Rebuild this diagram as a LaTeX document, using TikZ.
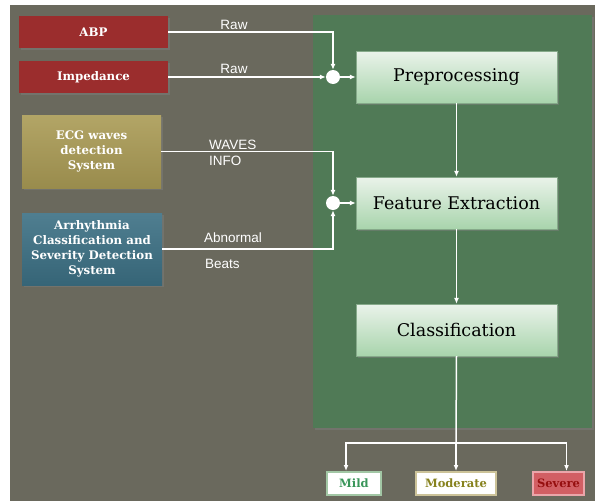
\documentclass[tikz,border=0pt]{standalone}
\usepackage{fontspec}
\setmainfont{DejaVu Serif}
\newfontfamily\lblfont{Liberation Sans}
\definecolor{sgbg}{RGB}{106,105,93}
\definecolor{sgpanel}{RGB}{80,122,86}
\definecolor{sgred}{RGB}{155,45,45}
\definecolor{sgolive}{RGB}{170,155,85}
\definecolor{sgteal}{RGB}{60,112,132}
\definecolor{sgtop}{RGB}{234,243,234}
\definecolor{sgbot}{RGB}{168,212,172}
\definecolor{sgmild}{RGB}{58,150,90}
\definecolor{sgmod}{RGB}{135,130,30}
\definecolor{sgsev}{RGB}{150,15,15}
\definecolor{sgsevfill}{RGB}{210,95,100}
\definecolor{sgsevline}{RGB}{235,165,170}
\usepackage{tikz}
\usetikzlibrary{arrows.meta,positioning,shadows}

\begin{document}
\begin{tikzpicture}[x=1pt, y=-1pt,
  every node/.style={inner sep=0pt},
  shd/.style={drop shadow={shadow xshift=1.5pt, shadow yshift=-2pt, opacity=0.45}},
  srcbox/.style={shd, text=white, align=center, font=\bfseries\fontsize{11.8}{15}\selectfont},
  procbox/.style={shd, top color=sgtop, bottom color=sgbot, draw=sgbot!80!black, line width=0.3pt,
    minimum width=201, minimum height=52, font=\fontsize{17.5}{20}\selectfont},
  jn/.style={circle, fill=white, minimum size=14},
  lbl/.style={text=white, font=\lblfont\fontsize{13.5}{15}\selectfont, align=left},
  wire/.style={white, line width=1.5pt},
  flow/.style={wire, -{Latex[length=6pt,width=5pt]}},
  outbox/.style={line width=2pt, minimum height=23, font=\bfseries\fontsize{11.5}{13}\selectfont}]
\useasboundingbox (0,0) rectangle (595,501);
% Background and panel
\fill[sgbg] (10,5) rectangle (595,501);
\fill[sgpanel, shd] (313,15) rectangle (592,428);
% Source systems
\node[srcbox, fill=sgred, minimum width=149, minimum height=32] (abp) at (93.5,32) {ABP};
\node[srcbox, fill=sgred, minimum width=149, minimum height=32] (imp) at (93.5,77) {Impedance};
\node[srcbox, top color=sgolive!90!white, bottom color=sgolive!90!black, minimum width=139, minimum height=73] (ecg) at (91.5,151.5) {ECG waves\\detection\\System};
\node[srcbox, top color=sgteal!90!white, bottom color=sgteal!90!black, minimum width=140, minimum height=72] (arr) at (92,249) {Arrhythmia\\Classification and\\Severity Detection\\System};
% Processing chain
\node[jn] (jn1) at (333,77) {};
\node[jn] (jn2) at (333,203) {};
\node[procbox] (pre) at (456.5,77) {Preprocessing};
\node[procbox] (feat) at (456.5,203) {Feature Extraction};
\node[procbox] (cls) at (456.5,330) {Classification};
% Severity outputs
\node[outbox, draw=sgbot!85!gray, fill=white, text=sgmild, minimum width=54] (mild) at (354,483.5) {Mild};
\node[outbox, draw=sgolive!60!white, fill=white, text=sgmod, minimum width=80] (mod) at (456,483.5) {Moderate};
\node[outbox, draw=sgsevline, fill=sgsevfill, text=sgsev, minimum width=51] (sev) at (558.5,483.5) {Severe};
\coordinate (split) at (456,443);
% Wire labels
\node[lbl] (rawa) at (234,25) {Raw};
\node[lbl] (rawb) at (234,69) {Raw};
\node[lbl, anchor=west] (waves) at (209,145) {WAVES};
\node[lbl, anchor=west] (info) at (209,161) {INFO};
\node[lbl, anchor=west] (abn) at (204,238) {Abnormal};
\node[lbl, anchor=west] (beats) at (205,264) {Beats};
% Connectors
\draw[flow] (abp.east) -| (jn1.north);
\draw[flow] (imp.east) -- (jn1.west);
\draw[flow] (jn1.east) -- (pre.west);
\draw[flow] (ecg.east) -| (jn2.north);
\draw[flow] (arr.east) -| (jn2.south);
\draw[flow] (jn2.east) -- (feat.west);
\draw[flow] (pre.south) -- (feat.north);
\draw[flow] (feat.south) -- (cls.north);
\draw[wire] (cls.south) -- (split);
\draw[flow] (split) -- (mod.north);
\draw[flow] (split) -| ([xshift=-8pt]mild.north);
\draw[flow] (split) -| ([xshift=8pt]sev.north);
\end{tikzpicture}
\end{document}
